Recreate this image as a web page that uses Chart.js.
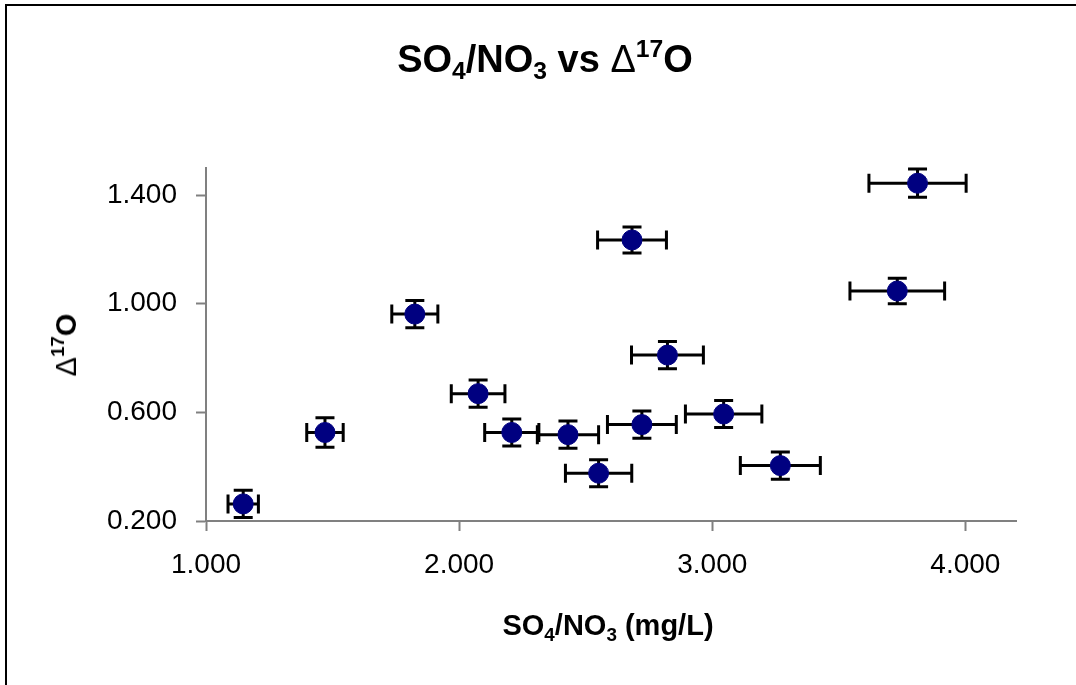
<!DOCTYPE html>
<html>
<head>
<meta charset="utf-8">
<title>SO4/NO3 vs Δ17O</title>
<script src="https://cdn.jsdelivr.net/npm/chart.js@4.4.1/dist/chart.umd.min.js"></script>
<style>
    html, body { margin: 0; padding: 0; background: #fff; overflow: hidden; }
    body { width: 1076px; height: 685px; position: relative; font-family: "Liberation Sans", Arial, sans-serif; }
    #frame { position: absolute; left: 5px; top: 4px; width: 1200px; height: 800px; border-top: 2px solid #000; border-left: 2px solid #000; }
    #chart { position: absolute; left: 0; top: 0; }
    .lbl { position: absolute; font-weight: bold; color: #000; white-space: nowrap; }
    .lbl sub, .lbl sup { font-size: 0.65em; vertical-align: baseline; position: relative; }
    .lbl sub { top: 0.3em; }
    .lbl sup { top: -0.62em; }
    .delta { font-weight: normal; }
    #title { font-size: 38px; line-height: 38px; left: 545px; top: 40px; transform: translateX(-50%); }
    #xTitle { font-size: 29px; line-height: 29px; left: 608px; top: 611px; transform: translateX(-50%); }
    #yTitle { font-size: 29px; line-height: 29px; left: 68px; top: 345px; transform: translate(-50%, -50%) rotate(-90deg); }
</style>
</head>
<body>
<div id="frame"></div>
<canvas id="chart" width="1076" height="685"></canvas>
<div class="lbl" id="title">SO<sub>4</sub>/NO<sub>3</sub> vs <span class="delta">Δ</span><sup>17</sup>O</div>
<div class="lbl" id="yTitle"><span class="delta">Δ</span><sup>17</sup>O</div>
<div class="lbl" id="xTitle">SO<sub>4</sub>/NO<sub>3</sub> (mg/L)</div>

<script>
// --- Data ---
const ratioValues = [1.147, 1.470, 1.825, 2.075, 2.208, 2.430, 2.551, 2.683, 2.722, 2.823, 3.045, 3.269, 3.731, 3.811];
const d17Values   = [0.263, 0.526, 0.962, 0.669, 0.526, 0.518, 0.376, 1.235, 0.555, 0.811, 0.594, 0.404, 1.047, 1.444];
const ratioErrors = [0.060, 0.072, 0.091, 0.106, 0.107, 0.121, 0.131, 0.136, 0.136, 0.142, 0.151, 0.158, 0.187, 0.192];
const d17Errors   = [0.050, 0.054, 0.050, 0.050, 0.050, 0.050, 0.050, 0.048, 0.050, 0.050, 0.050, 0.050, 0.047, 0.052];

const xTicks = [1, 2, 3, 4];
const yTicks = [0.2, 0.6, 1.0, 1.4];
const xRange = [1, 4.2];
const yRange = [0.2, 1.5];

// --- Styles ---
const FONT = '"Liberation Sans", Arial, sans-serif';
const AXIS_GREY = '#808080';
const MARKER = '#000080';

// Error bars go under the markers
const errorBarPlugin = {
    id: 'errorBars',
    beforeDatasetsDraw(chart) {
        const ctx = chart.ctx;
        const xs = chart.scales.x;
        const ys = chart.scales.y;
        const cap = 9.5;

        ctx.save();
        ctx.strokeStyle = '#000';
        ctx.lineWidth = 3;
        ctx.lineCap = 'butt';

        ratioValues.forEach((xv, i) => {
            const yv = d17Values[i];
            const px = xs.getPixelForValue(xv);
            const py = ys.getPixelForValue(yv);
            const x0 = xs.getPixelForValue(xv - ratioErrors[i]);
            const x1 = xs.getPixelForValue(xv + ratioErrors[i]);
            const y0 = ys.getPixelForValue(yv - d17Errors[i]);
            const y1 = ys.getPixelForValue(yv + d17Errors[i]);

            ctx.beginPath();
            // horizontal bar + caps
            ctx.moveTo(x0, py); ctx.lineTo(x1, py);
            ctx.moveTo(x0, py - cap); ctx.lineTo(x0, py + cap);
            ctx.moveTo(x1, py - cap); ctx.lineTo(x1, py + cap);
            // vertical bar + caps
            ctx.moveTo(px, y0); ctx.lineTo(px, y1);
            ctx.moveTo(px - cap, y0); ctx.lineTo(px + cap, y0);
            ctx.moveTo(px - cap, y1); ctx.lineTo(px + cap, y1);
            ctx.stroke();
        });
        ctx.restore();
    }
};

function axisOptions(range, tickVals, isX) {
    return {
        type: 'linear',
        position: isX ? 'bottom' : 'left',
        min: range[0],
        max: range[1],
        afterBuildTicks: (scale) => { scale.ticks = tickVals.map(v => ({ value: v })); },
        afterFit: (scale) => {
            if (isX) scale.height = 60;
            else scale.width = 110;
        },
        ticks: {
            color: '#000',
            font: { family: FONT, size: 28 },
            padding: isX ? 17 : 19,
            autoSkip: false,
            maxRotation: 0,
            callback: (v) => Number(v).toFixed(3)
        },
        grid: {
            display: true,
            drawOnChartArea: false,
            drawTicks: true,
            tickLength: 10,
            tickColor: AXIS_GREY,
            tickWidth: 2
        },
        border: { display: true, color: AXIS_GREY, width: 2 }
    };
}

// --- Init ---
document.addEventListener('DOMContentLoaded', () => {
    const ctx = document.getElementById('chart').getContext('2d');
    new Chart(ctx, {
        type: 'scatter',
        data: {
            datasets: [{
                data: ratioValues.map((x, i) => ({ x: x, y: d17Values[i] })),
                pointRadius: 10,
                pointHoverRadius: 10,
                pointBackgroundColor: MARKER,
                pointBorderColor: MARKER,
                pointBorderWidth: 1
            }]
        },
        options: {
            responsive: false,
            animation: false,
            layout: { padding: { left: 96, top: 168, right: 60, bottom: 104 } },
            scales: {
                x: axisOptions(xRange, xTicks, true),
                y: axisOptions(yRange, yTicks, false)
            },
            plugins: {
                legend: { display: false },
                tooltip: { enabled: false },
                title: { display: false }
            }
        },
        plugins: [errorBarPlugin]
    });
});
</script>
</body>
</html>
